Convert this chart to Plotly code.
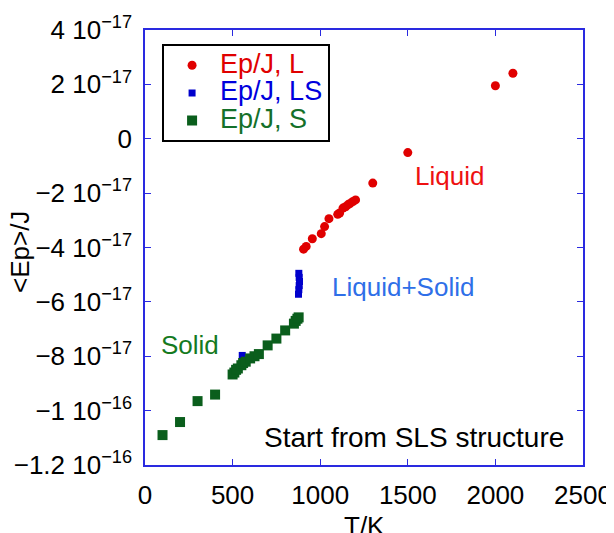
import plotly.graph_objects as go

# ---- data (energies in units of 1e-17 J) ----
T_L = [905, 920, 955, 1006, 1025, 1050, 1100, 1111, 1130, 1145, 1158, 1170, 1187, 1202, 1300, 1500, 2000, 2100]
E_L = [-4.06, -3.96, -3.68, -3.49, -3.23, -2.94, -2.78, -2.73, -2.55, -2.50, -2.43, -2.38, -2.31, -2.25, -1.63, -0.51, 1.95, 2.41]

T_LS = [555, 878, 880, 882, 880, 878, 876]
E_LS = [-7.97, -4.95, -5.10, -5.25, -5.40, -5.55, -5.72]

T_S = [100, 200, 300, 400, 500, 510, 520, 530, 550, 560, 575, 600, 625, 650, 700, 750, 800, 850, 860, 870, 877]
E_S = [-10.9, -10.42, -9.65, -9.41, -8.67, -8.60, -8.50, -8.45, -8.33, -8.25, -8.20, -8.08, -8.00, -7.92, -7.60, -7.35, -7.05, -6.80, -6.70, -6.62, -6.57]

y_tickvals = [-1.2e-16, -1e-16, -8e-17, -6e-17, -4e-17, -2e-17, 0, 2e-17, 4e-17]
y_ticktext = ["−1.2 10<sup>−16</sup>", "−1 10<sup>−16</sup>", "−8 10<sup>−17</sup>", "−6 10<sup>−17</sup>",
              "−4 10<sup>−17</sup>", "−2 10<sup>−17</sup>", "0", "2 10<sup>−17</sup>", "4 10<sup>−17</sup>"]
x_tickvals = [0, 500, 1000, 1500, 2000, 2500]

scale = 1e-17
RED = "#e00000"
BLUE = "#0000cc"
GREEN = "#0a5e1c"
AXIS = "#2a2ae0"
FONT = "Liberation Sans"


def leg(text, color):
    return f'<span style="color:{color};font-size:27px">{text}</span>'


fig = go.Figure()
fig.add_trace(go.Scatter(x=T_L, y=[e * scale for e in E_L], mode="markers",
                         marker=dict(symbol="circle", size=9, color=RED),
                         name=leg("Ep/J, L", "#e00000")))
fig.add_trace(go.Scatter(x=T_LS, y=[e * scale for e in E_LS], mode="markers",
                         marker=dict(symbol="square", size=7, color=BLUE),
                         name=leg("Ep/J, LS", "#0000dd")))
fig.add_trace(go.Scatter(x=T_S, y=[e * scale for e in E_S], mode="markers",
                         marker=dict(symbol="square", size=10, color=GREEN),
                         name=leg("Ep/J, S", "#14702a")))

axis_common = dict(showline=True, linecolor=AXIS, linewidth=1.5, mirror="ticks",
                   ticks="inside", ticklen=6, tickcolor=AXIS, tickwidth=1,
                   showgrid=False, zeroline=False, automargin=False,
                   tickfont=dict(family=FONT, size=26, color="black"))

fig.update_layout(
    width=614, height=533,
    margin=dict(l=137, r=39, t=22, b=76),
    paper_bgcolor="white", plot_bgcolor="white",
    font=dict(family=FONT, color="black"),
    showlegend=True,
    legend=dict(x=0.039, y=0.967, xanchor="left", yanchor="top",
                bgcolor="white", bordercolor="black", borderwidth=2,
                font=dict(family=FONT, size=19), itemwidth=46,
                tracegroupgap=0),
    xaxis=dict(range=[0, 2500], tickvals=x_tickvals, ticklabelstandoff=6, **axis_common),
    yaxis=dict(range=[-1.2e-16, 4e-17], tickvals=y_tickvals, ticktext=y_ticktext,
               ticklabelstandoff=6, **axis_common),
    annotations=[
        dict(text="&lt;Ep&gt;/J", xref="paper", yref="paper", x=-0.285, y=0.49,
             xanchor="center", yanchor="middle", textangle=-90,
             showarrow=False, font=dict(family=FONT, size=26, color="black")),
        dict(text="T/K", xref="paper", yref="paper", x=0.5, y=-0.14, yanchor="middle",
             showarrow=False, font=dict(family=FONT, size=26, color="black")),
        dict(text="Liquid", x=1740, y=-1.37e-17, showarrow=False,
             font=dict(family=FONT, size=26, color="#ee1111")),
        dict(text="Liquid+Solid", x=1470, y=-5.45e-17, showarrow=False,
             font=dict(family=FONT, size=26, color="#2f6fe8")),
        dict(text="Solid", x=255, y=-7.57e-17, showarrow=False,
             font=dict(family=FONT, size=26, color="#157a1f")),
        dict(text="Start from SLS structure", x=1535, y=-1.10e-16, showarrow=False,
             font=dict(family=FONT, size=28, color="black")),
    ],
)

fig.write_html("out.html")
